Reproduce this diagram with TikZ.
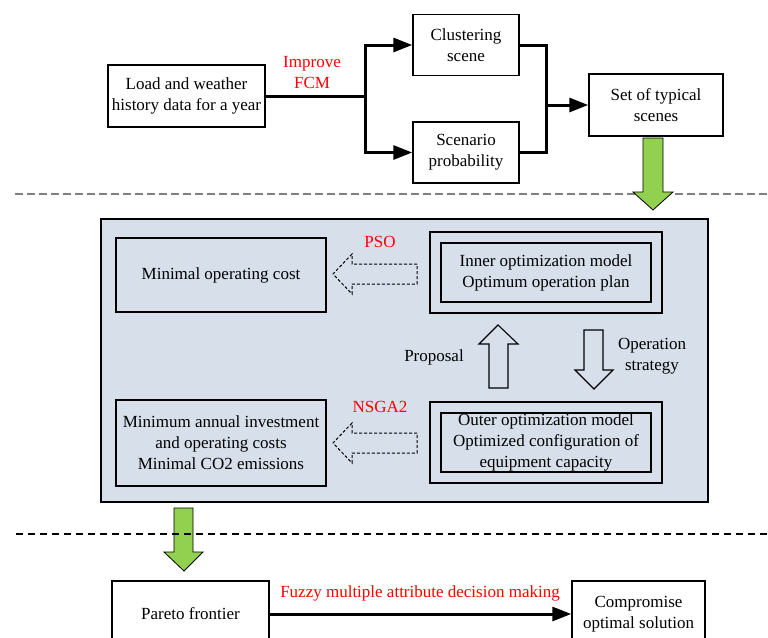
\documentclass[tikz,border=0pt]{standalone}
\usepackage{fontspec}
\setmainfont{Liberation Serif}
\usetikzlibrary{arrows.meta,fit}
\definecolor{panelblue}{RGB}{214,223,234}
\definecolor{arrowgreen}{RGB}{146,208,80}
\begin{document}
\begin{tikzpicture}[x=1pt,y=-1pt,
  every node/.style={font=\fontsize{17}{21}\selectfont},
  box/.style={draw,line width=1.5pt,align=center,inner sep=0pt},
  framebox/.style={draw,line width=1.8pt,inner sep=10pt},
  redlbl/.style={text=red,align=center},
  flowline/.style={line width=3pt},
  flowarrow/.style={line width=3pt,-{Triangle[length=19pt,width=14pt]}},
  hollow/.style={draw,line width=1.1pt,fill=panelblue},
  dashedhollow/.style={draw,line width=1pt,dash pattern=on 3pt off 2pt},
  greenarr/.style={draw,line width=0.8pt,fill=arrowgreen}]
  \useasboundingbox (0,0) rectangle (768,637);

  % Scene generation
  \node[box,minimum width=157pt,minimum height=62pt] (load) at (186.5,96) {Load and weather\\history data for a year};
  \node[box,minimum width=106pt,minimum height=61pt] (clus) at (466,45) {Clustering\\scene};
  \node[box,minimum width=106pt,minimum height=61pt] (scen) at (466,152.5) {Scenario\\probability};
  \node[box,minimum width=134pt,minimum height=62pt] (typ) at (656,105) {Set of typical\\scenes};
  \node[redlbl] (fcm) at (312,73) {Improve\\FCM};
  \coordinate (split) at (365,96);
  \coordinate (join) at (546,105);
  \draw[flowline] (load.east) -- (split);
  \draw[flowarrow] (split) |- (clus.west);
  \draw[flowarrow] (split) |- (scen.west);
  \draw[flowline] (clus.east) -| (join) |- (scen.east);
  \draw[flowarrow] (join) -- (typ.west);
  \draw[gray,line width=1.5pt,dash pattern=on 8pt off 4pt] (15,194) -- (768,194);
  \draw[greenarr] (643,138) -- (663,138) -- (663,192) -- (673,192) -- (653,210)
    -- (633,192) -- (643,192) -- cycle;

  % Two-layer optimization
  \draw[line width=1.5pt,fill=panelblue] (101,219) rectangle (708,502);
  \node[box,minimum width=210pt,minimum height=74pt] (mincost) at (221,275) {Minimal operating cost};
  \node[box,minimum width=210pt,minimum height=59pt] (inner) at (546,272.5) {Inner optimization model\\Optimum operation plan};
  \node[framebox,fit=(inner)] (innerframe) {};
  \node[box,minimum width=210pt,minimum height=86pt] (mincost2) at (221,443) {Minimum annual investment\\and operating costs\\Minimal CO2 emissions};
  \node[box,minimum width=210pt,minimum height=59pt] (outer) at (546,442.5) {Outer optimization model\\Optimized configuration of\\equipment capacity};
  \node[framebox,fit=(outer)] (outerframe) {};
  \node[redlbl] (pso) at (380,242) {PSO};
  \node[redlbl] (nsga) at (380,407) {NSGA2};
  \node (prop) at (434,357) {Proposal};
  \node[align=center] (strat) at (652,356) {Operation\\strategy};
  \draw[dashedhollow] (417,264) -- (352,264) -- (352,254) -- (333,274) -- (352,294)
    -- (352,284) -- (417,284) -- cycle;
  \draw[dashedhollow] (417,433) -- (352,433) -- (352,423) -- (333,443) -- (352,463)
    -- (352,453) -- (417,453) -- cycle;
  \draw[hollow] (489,388) -- (489,344) -- (479,344) -- (498,325) -- (518,344)
    -- (508,344) -- (508,388) -- cycle;
  \draw[hollow] (584,330) -- (603,330) -- (603,370) -- (613,370) -- (594,389)
    -- (575,370) -- (584,370) -- cycle;
  \draw[greenarr] (174,508) -- (193,508) -- (193,552) -- (203,552) -- (184,571)
    -- (164,552) -- (174,552) -- cycle;

  % Decision making
  \draw[line width=1.2pt,dash pattern=on 7pt off 5pt] (16,534) -- (768,534);
  \node[box,minimum width=157pt,minimum height=66pt] (pareto) at (190.5,614) {Pareto frontier};
  \node[box,minimum width=133pt,minimum height=66pt] (comp) at (638.5,614) {Compromise\\optimal solution};
  \node[redlbl] (fuzzy) at (420,593) {Fuzzy multiple attribute decision making};
  \draw[flowarrow] (pareto.east) -- (comp.west);
\end{tikzpicture}
\end{document}
